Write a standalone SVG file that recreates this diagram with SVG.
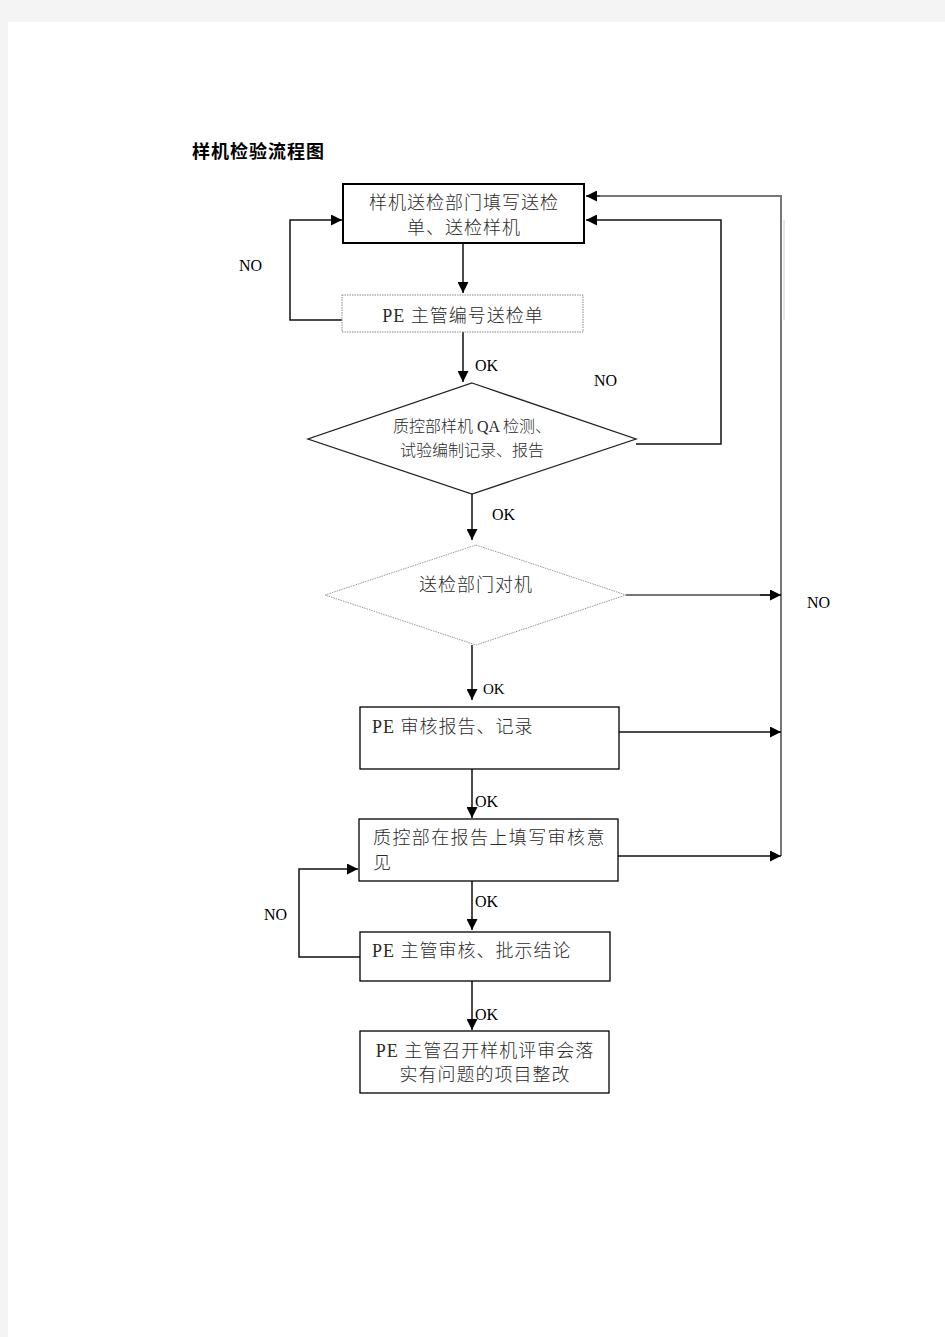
<svg xmlns="http://www.w3.org/2000/svg" width="945" height="1337" viewBox="0 0 945 1337">
<defs>
<style>
.zh{font-family:"Liberation Serif","Noto Sans CJK SC",serif;font-size:18px;fill:#2a2a2a;letter-spacing:1px;font-weight:300}
.sm{font-size:16px;letter-spacing:0}
.lb{font-family:"Liberation Serif",serif;font-size:16px;fill:#000}
.box{fill:#fff;stroke:#000;stroke-width:1.3}
.dot{fill:#fff;stroke:#888;stroke-width:1;stroke-dasharray:1.5 1}
.ln{fill:none;stroke:#111;stroke-width:1.5}
.gl{fill:none;stroke:#777;stroke-width:2}
</style>
<marker id="ar" viewBox="0 0 10 10" refX="10" refY="5" markerWidth="11" markerHeight="11" markerUnits="userSpaceOnUse" orient="auto">
<path d="M0,0 L10,5 L0,10 z" fill="#000"/>
</marker>
</defs>
<rect x="0" y="0" width="945" height="1337" fill="#f4f4f4"/>
<rect x="8" y="22" width="937" height="1315" fill="#fff"/>
<text x="192" y="158" class="zh" style="font-weight:bold;fill:#000">样机检验流程图</text>

<g id="connectors">
<line class="ln" x1="463" y1="243" x2="463" y2="293" marker-end="url(#ar)"/>
<polyline class="ln" points="342,320 290,320 290,220 342,220" marker-end="url(#ar)"/>
<line class="ln" x1="463" y1="332" x2="463" y2="382" marker-end="url(#ar)"/>
<polyline class="ln" points="636,444 721,444 721,220 586,220" marker-end="url(#ar)"/>
<polyline class="gl" points="781,856 781,196 600,196"/>
<line class="ln" x1="600" y1="196" x2="586" y2="196" marker-end="url(#ar)"/>
<line x1="784" y1="220" x2="784" y2="320" stroke="#ccc" stroke-width="1"/>
<line class="ln" x1="472" y1="494" x2="472" y2="540" marker-end="url(#ar)"/>
<line class="gl" x1="626" y1="595" x2="770" y2="595"/>
<line class="ln" x1="760" y1="595" x2="781" y2="595" marker-end="url(#ar)"/>
<line class="ln" x1="472" y1="645" x2="472" y2="700" marker-end="url(#ar)"/>
<line class="ln" x1="619" y1="732" x2="781" y2="732" marker-end="url(#ar)"/>
<line class="ln" x1="472" y1="769" x2="472" y2="818" marker-end="url(#ar)"/>
<line class="ln" x1="618" y1="856" x2="781" y2="856" marker-end="url(#ar)"/>
<line class="ln" x1="472" y1="881" x2="472" y2="930" marker-end="url(#ar)"/>
<polyline class="ln" points="360,957 299,957 299,869 358,869" marker-end="url(#ar)"/>
<line class="ln" x1="472" y1="981" x2="472" y2="1030" marker-end="url(#ar)"/>
<text x="239" y="271" class="lb">NO</text>
<text x="475" y="371" class="lb">OK</text>
<text x="594" y="386" class="lb">NO</text>
<text x="492" y="520" class="lb">OK</text>
<text x="807" y="608" class="lb">NO</text>
<text x="483" y="694" class="lb" style="font-size:15px">OK</text>
<text x="475" y="807" class="lb">OK</text>
<text x="475" y="907" class="lb">OK</text>
<text x="264" y="920" class="lb">NO</text>
<text x="475" y="1020" class="lb">OK</text>
</g>

<g id="n1">
<rect class="box" x="343" y="184" width="241" height="59" style="stroke-width:2"/>
<text x="464" y="209" class="zh" text-anchor="middle">样机送检部门填写送检</text>
<text x="464" y="234" class="zh" text-anchor="middle">单、送检样机</text>
</g>
<g id="n2">
<rect class="dot" x="342" y="295" width="241" height="37"/>
<text x="463" y="322" class="zh" text-anchor="middle">PE 主管编号送检单</text>
</g>
<g id="n3">
<polygon points="472,383 636,439 472,494 308,439" fill="#fff" stroke="#222" stroke-width="1.3"/>
<text x="472" y="432" class="zh sm" text-anchor="middle">质控部样机 QA 检测、</text>
<text x="472" y="456" class="zh sm" text-anchor="middle">试验编制记录、报告</text>
</g>
<g id="n4">
<polygon points="476,545 626,595 476,645 325,595" fill="#fff" stroke="#999" stroke-width="1" stroke-dasharray="1.5 1"/>
<text x="476" y="591" class="zh" text-anchor="middle">送检部门对机</text>
</g>
<g id="n5">
<rect class="box" x="360" y="707" width="259" height="62"/>
<text x="372" y="733" class="zh">PE 审核报告、记录</text>
</g>
<g id="n6">
<rect class="box" x="359" y="819" width="259" height="62"/>
<text x="373" y="844" class="zh" style="letter-spacing:1.4px">质控部在报告上填写审核意</text>
<text x="373" y="869" class="zh">见</text>
</g>
<g id="n7">
<rect class="box" x="360" y="932" width="250" height="49"/>
<text x="372" y="957" class="zh">PE 主管审核、批示结论</text>
</g>
<g id="n8">
<rect class="box" x="360" y="1031" width="249" height="62"/>
<text x="485" y="1057" class="zh" text-anchor="middle">PE 主管召开样机评审会落</text>
<text x="485" y="1081" class="zh" text-anchor="middle">实有问题的项目整改</text>
</g>
</svg>
